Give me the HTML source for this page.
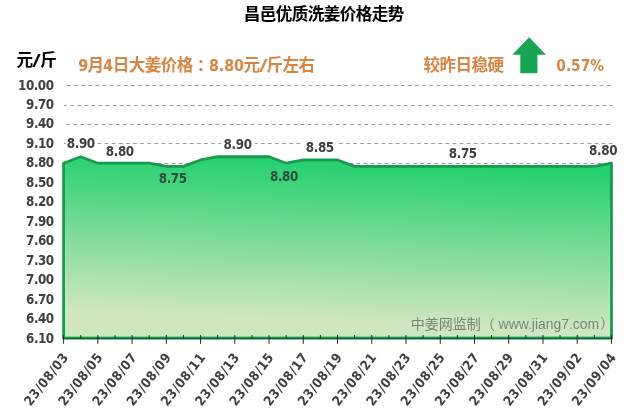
<!DOCTYPE html>
<html lang="zh-CN">
<head>
<meta charset="utf-8">
<title>昌邑优质洗姜价格走势</title>
<style>
html,body{margin:0;padding:0;background:#fff;}
body{width:640px;height:410px;overflow:hidden;}
svg{display:block;}
text{font-family:"DejaVu Sans Condensed","DejaVu Sans","Liberation Sans","Noto Sans CJK SC",sans-serif;}
.num{font-family:"DejaVu Sans Condensed","DejaVu Sans","Liberation Sans",sans-serif;font-weight:bold;fill:#404040;font-size:13.3px;}
.on{fill:#2b4f3a;}
.cjk{font-weight:bold;font-size:16.6px;letter-spacing:-0.6px;}
.d{font-size:16px;letter-spacing:0;}
.wm{font-family:"Liberation Sans","Noto Sans CJK SC",sans-serif;font-size:14px;fill:#788578;}
.grid line{stroke:#9e9e9e;stroke-width:1;stroke-dasharray:3.9 3.2;}
.tick line{stroke:#262626;stroke-width:1;}
</style>
</head>
<body>
<svg width="640" height="410" viewBox="0 0 640 410">
<defs>
<linearGradient id="g" gradientUnits="userSpaceOnUse" x1="590" y1="172" x2="583.6" y2="330.5">
<stop offset="0" stop-color="#25d071"/>
<stop offset="1" stop-color="#d0e6c0"/>
</linearGradient>
<linearGradient id="hl" gradientUnits="userSpaceOnUse" x1="0" y1="200" x2="0" y2="330">
<stop offset="0" stop-color="#b4f2c6" stop-opacity="0"/>
<stop offset="1" stop-color="#b4f2c6" stop-opacity="0.8"/>
</linearGradient>
</defs>
<rect width="640" height="410" fill="#fff"/>
<g class="grid">
<line x1="64" x2="612.6" y1="318.5" y2="318.5" stroke-dashoffset="3"/>
<line x1="64" x2="612.6" y1="299.5" y2="299.5" stroke-dashoffset="6"/>
<line x1="64" x2="612.6" y1="279.5" y2="279.5" stroke-dashoffset="2"/>
<line x1="64" x2="612.6" y1="260.5" y2="260.5" stroke-dashoffset="5"/>
<line x1="64" x2="612.6" y1="240.5" y2="240.5" stroke-dashoffset="1"/>
<line x1="64" x2="612.6" y1="221.5" y2="221.5" stroke-dashoffset="4"/>
<line x1="64" x2="612.6" y1="202.5" y2="202.5" stroke-dashoffset="0"/>
<line x1="64" x2="612.6" y1="182.5" y2="182.5" stroke-dashoffset="3"/>
<line x1="64" x2="612.6" y1="163.5" y2="163.5" stroke-dashoffset="6"/>
<line x1="64" x2="612.6" y1="143.5" y2="143.5" stroke-dashoffset="2"/>
<line x1="64" x2="612.6" y1="124.5" y2="124.5" stroke-dashoffset="5"/>
<line x1="64" x2="612.6" y1="105.5" y2="105.5" stroke-dashoffset="1"/>
<line x1="64" x2="612.6" y1="85.5" y2="85.5" stroke-dashoffset="4"/>
</g>
<polygon points="63.6,337.8 63.60,163.20 80.72,156.73 97.84,163.20 114.96,163.20 132.08,163.20 149.20,163.20 166.32,166.43 183.44,166.43 200.56,159.97 217.68,156.73 234.80,156.73 251.92,156.73 269.04,156.73 286.16,163.20 303.28,159.97 320.40,159.97 337.53,159.97 354.65,166.43 371.77,166.43 388.89,166.43 406.01,166.43 423.13,166.43 440.25,166.43 457.37,166.43 474.49,166.43 491.61,166.43 508.73,166.43 525.85,166.43 542.97,166.43 560.09,166.43 577.21,166.43 594.33,166.43 611.45,163.20 611.45,337.8" fill="url(#g)" stroke="#169b4d" stroke-width="2.8" stroke-linejoin="round"/>
<polyline points="65.50,167.20 65.50,335.90 609.55,335.90 609.55,167.20" fill="none" stroke="url(#hl)" stroke-width="1"/>
<line x1="62.40" x2="612.65" y1="338.7" y2="338.7" stroke="#0b6030" stroke-width="1.2"/>
<g class="tick">
<line x1="63.60" x2="63.60" y1="335" y2="343.8"/>
<line x1="80.72" x2="80.72" y1="335" y2="338.6"/>
<line x1="97.84" x2="97.84" y1="335" y2="343.8"/>
<line x1="114.96" x2="114.96" y1="335" y2="338.6"/>
<line x1="132.08" x2="132.08" y1="335" y2="343.8"/>
<line x1="149.20" x2="149.20" y1="335" y2="338.6"/>
<line x1="166.32" x2="166.32" y1="335" y2="343.8"/>
<line x1="183.44" x2="183.44" y1="335" y2="338.6"/>
<line x1="200.56" x2="200.56" y1="335" y2="343.8"/>
<line x1="217.68" x2="217.68" y1="335" y2="338.6"/>
<line x1="234.80" x2="234.80" y1="335" y2="343.8"/>
<line x1="251.92" x2="251.92" y1="335" y2="338.6"/>
<line x1="269.04" x2="269.04" y1="335" y2="343.8"/>
<line x1="286.16" x2="286.16" y1="335" y2="338.6"/>
<line x1="303.28" x2="303.28" y1="335" y2="343.8"/>
<line x1="320.40" x2="320.40" y1="335" y2="338.6"/>
<line x1="337.53" x2="337.53" y1="335" y2="343.8"/>
<line x1="354.65" x2="354.65" y1="335" y2="338.6"/>
<line x1="371.77" x2="371.77" y1="335" y2="343.8"/>
<line x1="388.89" x2="388.89" y1="335" y2="338.6"/>
<line x1="406.01" x2="406.01" y1="335" y2="343.8"/>
<line x1="423.13" x2="423.13" y1="335" y2="338.6"/>
<line x1="440.25" x2="440.25" y1="335" y2="343.8"/>
<line x1="457.37" x2="457.37" y1="335" y2="338.6"/>
<line x1="474.49" x2="474.49" y1="335" y2="343.8"/>
<line x1="491.61" x2="491.61" y1="335" y2="338.6"/>
<line x1="508.73" x2="508.73" y1="335" y2="343.8"/>
<line x1="525.85" x2="525.85" y1="335" y2="338.6"/>
<line x1="542.97" x2="542.97" y1="335" y2="343.8"/>
<line x1="560.09" x2="560.09" y1="335" y2="338.6"/>
<line x1="577.21" x2="577.21" y1="335" y2="343.8"/>
<line x1="594.33" x2="594.33" y1="335" y2="338.6"/>
<line x1="611.45" x2="611.45" y1="335" y2="343.8"/>
</g>
<text class="num" x="54" y="342.9" text-anchor="end" textLength="27.9" lengthAdjust="spacing">6.10</text>
<text class="num" x="54" y="322.9" text-anchor="end" textLength="27.9" lengthAdjust="spacing">6.40</text>
<text class="num" x="54" y="303.9" text-anchor="end" textLength="27.9" lengthAdjust="spacing">6.70</text>
<text class="num" x="54" y="283.9" text-anchor="end" textLength="27.9" lengthAdjust="spacing">7.00</text>
<text class="num" x="54" y="264.9" text-anchor="end" textLength="27.9" lengthAdjust="spacing">7.30</text>
<text class="num" x="54" y="244.9" text-anchor="end" textLength="27.9" lengthAdjust="spacing">7.60</text>
<text class="num" x="54" y="225.9" text-anchor="end" textLength="27.9" lengthAdjust="spacing">7.90</text>
<text class="num" x="54" y="205.9" text-anchor="end" textLength="27.9" lengthAdjust="spacing">8.20</text>
<text class="num" x="54" y="186.9" text-anchor="end" textLength="27.9" lengthAdjust="spacing">8.50</text>
<text class="num" x="54" y="166.9" text-anchor="end" textLength="27.9" lengthAdjust="spacing">8.80</text>
<text class="num" x="54" y="147.9" text-anchor="end" textLength="27.9" lengthAdjust="spacing">9.10</text>
<text class="num" x="54" y="127.9" text-anchor="end" textLength="27.9" lengthAdjust="spacing">9.40</text>
<text class="num" x="54" y="108.9" text-anchor="end" textLength="27.9" lengthAdjust="spacing">9.70</text>
<text class="num" x="54" y="89.9" text-anchor="end" textLength="35.9" lengthAdjust="spacing">10.00</text>
<text class="num" transform="translate(68.80,357.6) rotate(-52)" text-anchor="end" textLength="62.4" lengthAdjust="spacing">23/08/03</text>
<text class="num" transform="translate(103.04,357.6) rotate(-52)" text-anchor="end" textLength="62.4" lengthAdjust="spacing">23/08/05</text>
<text class="num" transform="translate(137.28,357.6) rotate(-52)" text-anchor="end" textLength="62.4" lengthAdjust="spacing">23/08/07</text>
<text class="num" transform="translate(171.52,357.6) rotate(-52)" text-anchor="end" textLength="62.4" lengthAdjust="spacing">23/08/09</text>
<text class="num" transform="translate(205.76,357.6) rotate(-52)" text-anchor="end" textLength="62.4" lengthAdjust="spacing">23/08/11</text>
<text class="num" transform="translate(240.00,357.6) rotate(-52)" text-anchor="end" textLength="62.4" lengthAdjust="spacing">23/08/13</text>
<text class="num" transform="translate(274.24,357.6) rotate(-52)" text-anchor="end" textLength="62.4" lengthAdjust="spacing">23/08/15</text>
<text class="num" transform="translate(308.48,357.6) rotate(-52)" text-anchor="end" textLength="62.4" lengthAdjust="spacing">23/08/17</text>
<text class="num" transform="translate(342.73,357.6) rotate(-52)" text-anchor="end" textLength="62.4" lengthAdjust="spacing">23/08/19</text>
<text class="num" transform="translate(376.97,357.6) rotate(-52)" text-anchor="end" textLength="62.4" lengthAdjust="spacing">23/08/21</text>
<text class="num" transform="translate(411.21,357.6) rotate(-52)" text-anchor="end" textLength="62.4" lengthAdjust="spacing">23/08/23</text>
<text class="num" transform="translate(445.45,357.6) rotate(-52)" text-anchor="end" textLength="62.4" lengthAdjust="spacing">23/08/25</text>
<text class="num" transform="translate(479.69,357.6) rotate(-52)" text-anchor="end" textLength="62.4" lengthAdjust="spacing">23/08/27</text>
<text class="num" transform="translate(513.93,357.6) rotate(-52)" text-anchor="end" textLength="62.4" lengthAdjust="spacing">23/08/29</text>
<text class="num" transform="translate(548.17,357.6) rotate(-52)" text-anchor="end" textLength="62.4" lengthAdjust="spacing">23/08/31</text>
<text class="num" transform="translate(582.41,357.6) rotate(-52)" text-anchor="end" textLength="62.4" lengthAdjust="spacing">23/09/02</text>
<text class="num" transform="translate(616.65,357.6) rotate(-52)" text-anchor="end" textLength="62.4" lengthAdjust="spacing">23/09/04</text>
<rect x="67.6" y="142.5" width="28.4" height="2" fill="#fff"/>
<rect x="221" y="142.5" width="33.5" height="2" fill="#fff"/>
<rect x="302.5" y="142.5" width="33.0" height="2" fill="#fff"/>
<text class="num" x="81" y="147.9" text-anchor="middle" textLength="28.4" lengthAdjust="spacing">8.90</text>
<text class="num" x="120" y="155.9" text-anchor="middle" textLength="28.4" lengthAdjust="spacing">8.80</text>
<text class="num on" x="172.9" y="183.0" text-anchor="middle" textLength="28.4" lengthAdjust="spacing">8.75</text>
<text class="num" x="237.8" y="148.5" text-anchor="middle" textLength="28.4" lengthAdjust="spacing">8.90</text>
<text class="num on" x="284.2" y="180.9" text-anchor="middle" textLength="28.4" lengthAdjust="spacing">8.80</text>
<text class="num" x="320" y="151.5" text-anchor="middle" textLength="28.4" lengthAdjust="spacing">8.85</text>
<text class="num" x="463" y="157.8" text-anchor="middle" textLength="28.4" lengthAdjust="spacing">8.75</text>
<text class="num" x="603.3" y="154.8" text-anchor="middle" textLength="28.4" lengthAdjust="spacing">8.80</text>
<text class="cjk" x="243.8" y="20.2" fill="#000">昌邑优质洗姜价格走势</text>
<text class="cjk" y="65.5" fill="#000"><tspan x="16.5">元</tspan><tspan class="d" x="32.2" textLength="8.4" lengthAdjust="spacingAndGlyphs">/</tspan><tspan x="40.3">斤</tspan></text>
<text class="cjk" y="71.2" fill="#d98442"><tspan class="d" x="78.2">9</tspan><tspan x="87.4">月</tspan><tspan class="d" x="103">4</tspan><tspan x="112.8">日大姜价格</tspan><tspan x="196.8">：</tspan><tspan class="d" x="208.9" textLength="35" lengthAdjust="spacingAndGlyphs">8.80</tspan><tspan x="243.5">元</tspan><tspan class="d" x="259.2" textLength="8.2" lengthAdjust="spacingAndGlyphs">/</tspan><tspan x="266.5">斤左右</tspan></text>
<text class="cjk" x="423.5" y="71.2" fill="#d98442">较昨日稳硬</text>
<text class="cjk d" x="556.3" y="71.0" fill="#d98442" textLength="47.8" lengthAdjust="spacingAndGlyphs">0.57%</text>
<polygon points="529.1,37.2 546,54.8 537.4,54.8 537.4,73.3 520.3,73.3 520.3,54.8 512.2,54.8" fill="#17a552"/>
<text class="wm" y="328.8"><tspan x="410.8">中姜网监制（</tspan><tspan x="498.6" textLength="100.4" lengthAdjust="spacingAndGlyphs">www.jiang7.com</tspan><tspan x="600.3" dy="-1">）</tspan></text>
</svg>
</body>
</html>
